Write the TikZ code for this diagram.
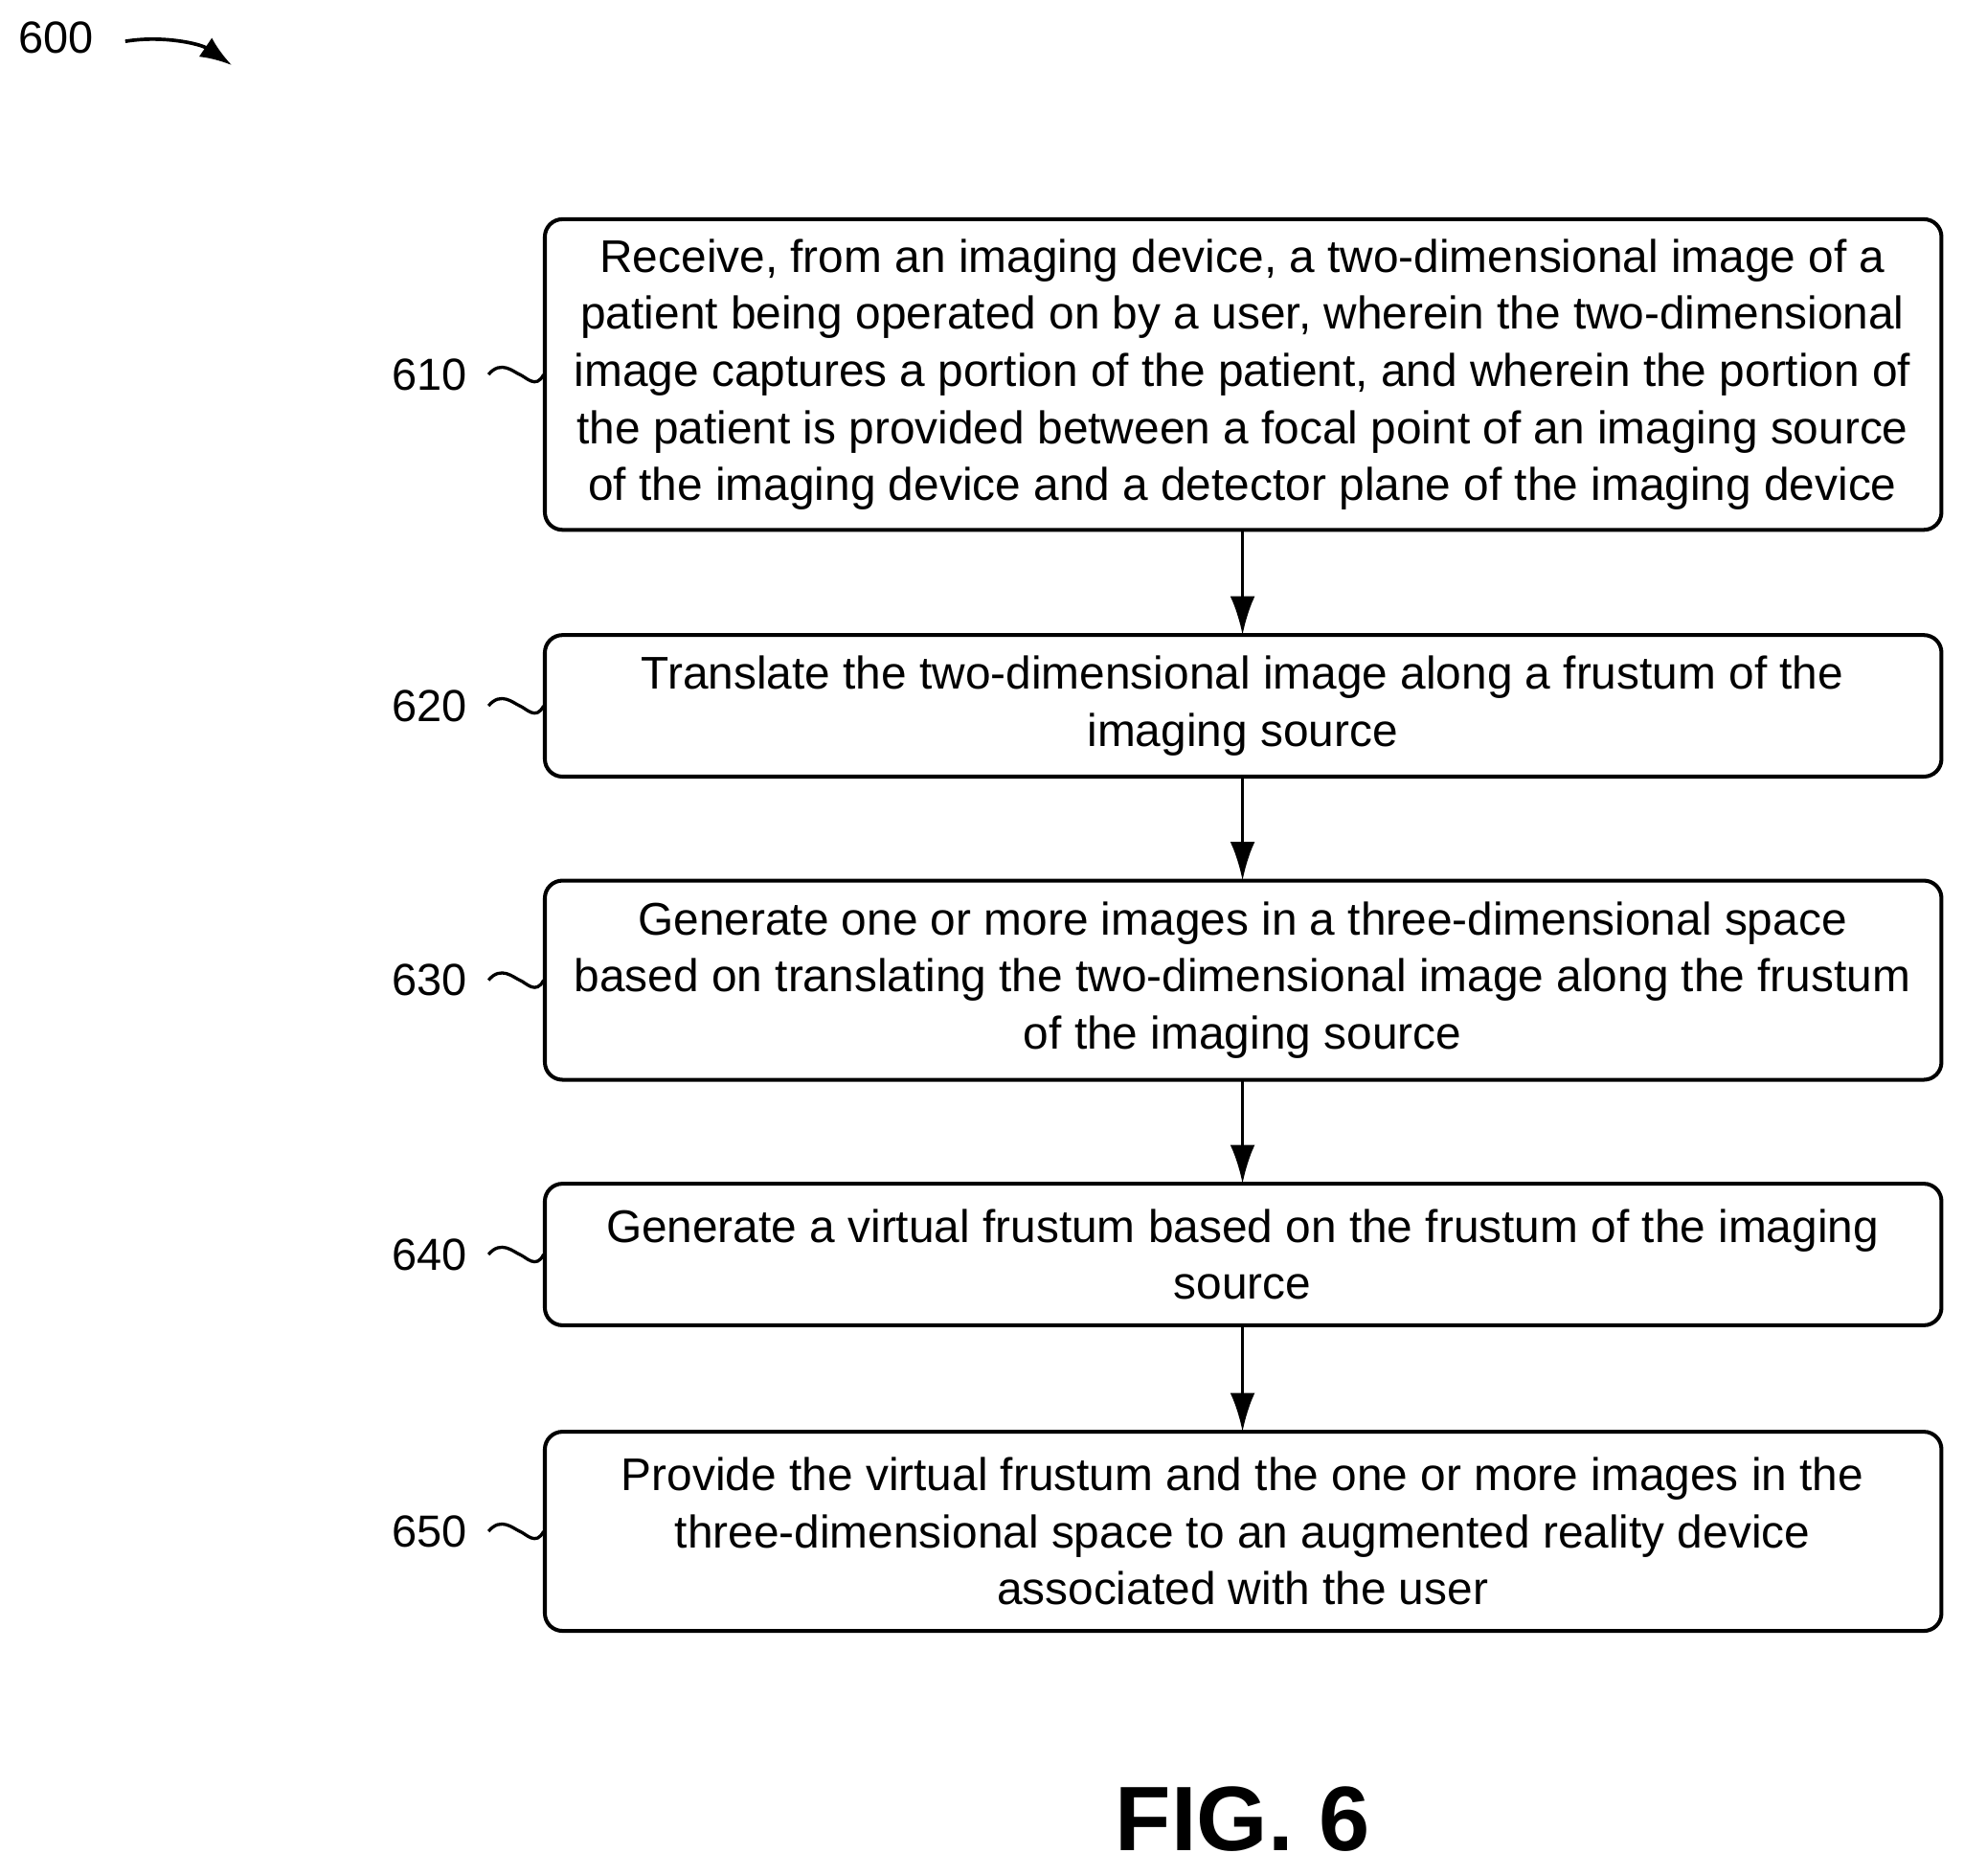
\documentclass[tikz,border=0pt]{standalone}
\usepackage{fontspec}
\setmainfont{Liberation Sans}
\usetikzlibrary{arrows.meta}
\begin{document}
\begin{tikzpicture}[x=0.025cm,y=-0.025cm,
  box/.style={align=center,font=\fontsize{26}{32.4}\selectfont},
  lab/.style={font=\fontsize{25.5}{30}\selectfont},
  arr/.style={line width=2pt,-{Latex[length=22pt,width=14pt]}}]
\useasboundingbox (0,0) rectangle (1568,1497);
\def\bx#1#2#3#4#5{%
  \draw[line width=2.2pt,rounded corners=10pt] (435,#2) rectangle (1550,#3);
  \node[box] (#1) at (992,{(#2+#3)/2}) {#5};
  \node[lab,anchor=east] (l#1) at (378,{(#2+#3)/2}) {#4};
  \draw[line width=1.8pt] (390,{(#2+#3)/2}) .. controls (400,{(#2+#3)/2-12}) and (410,{(#2+#3)/2-2}) .. (415,{(#2+#3)/2}) .. controls (420,{(#2+#3)/2+2}) and (428,{(#2+#3)/2+12}) .. (434,{(#2+#3)/2});
  \coordinate (#1t) at (992,#2); \coordinate (#1b) at (992,#3);}
\bx{a}{175}{423}{610}{Receive, from an imaging device, a two-dimensional image of a\\patient being operated on by a user, wherein the two-dimensional\\image captures a portion of the patient, and wherein the portion of\\the patient is provided between a focal point of an imaging source\\of the imaging device and a detector plane of the imaging device}
\bx{b}{507}{620}{620}{Translate the two-dimensional image along a frustum of the\\imaging source}
\bx{c}{703}{862}{630}{Generate one or more images in a three-dimensional space\\based on translating the two-dimensional image along the frustum\\of the imaging source}
\bx{d}{945}{1058}{640}{Generate a virtual frustum based on the frustum of the imaging\\source}
\bx{e}{1143}{1302}{650}{Provide the virtual frustum and the one or more images in the\\three-dimensional space to an augmented reality device\\associated with the user}
\draw[arr] (ab) -- (bt);
\draw[arr] (bb) -- (ct);
\draw[arr] (cb) -- (dt);
\draw[arr] (db) -- (et);
\node[lab] (n600) at (45,30) {600};
\coordinate (s) at (100,33); \coordinate (t) at (185,52);
\draw[line width=2pt,-{Latex[length=18pt,width=13pt]}] (s) .. controls (130,28) and (160,35) .. (t);
\node[font=\fontsize{52}{56}\selectfont\bfseries] (fig) at (992,1452) {FIG. 6};
\end{tikzpicture}
\end{document}
